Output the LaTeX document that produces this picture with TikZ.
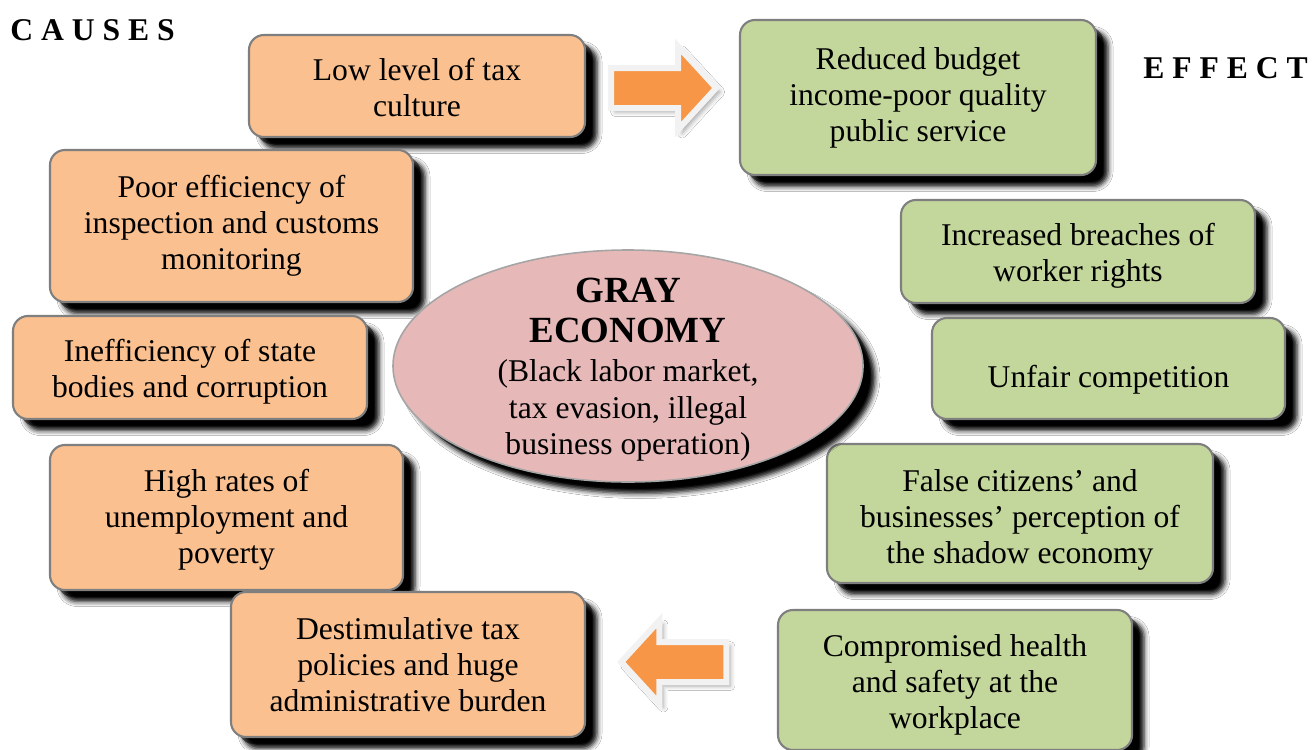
\documentclass[tikz,border=0pt]{standalone}
\usepackage{fontspec}
\setmainfont{Liberation Serif}
\usetikzlibrary{shapes.geometric,shapes.arrows,shadows,shadows.blur}
\definecolor{causefill}{HTML}{FAC090}
\definecolor{effectfill}{HTML}{C3D69B}
\definecolor{corefill}{HTML}{E6B9B8}
\definecolor{boxline}{HTML}{7F7F7F}
\definecolor{arroworange}{HTML}{F79646}
\definecolor{arrowedge}{HTML}{F2F2F2}
\newcommand\coretitle[1]{{\fontsize{21}{24}\selectfont\bfseries #1}}
\tikzset{
  bodytext/.style={font=\fontsize{18}{20.5}\selectfont, align=center, text=black, inner sep=0pt},
  myshadow/.style={drop shadow={shadow xshift=0.15cm, shadow yshift=-0.14cm, fill=black!50, opacity=1},
                   blur shadow={shadow xshift=0.24cm, shadow yshift=-0.23cm, shadow blur radius=0.1cm, shadow opacity=100}},
  causebox/.style={bodytext, rectangle, rounded corners=0.3cm, draw=boxline, line width=1.2pt, fill=causefill, myshadow},
  effectbox/.style={bodytext, rectangle, rounded corners=0.3cm, draw=boxline, line width=1.2pt, fill=effectfill, myshadow},
  corebox/.style={ellipse, draw=boxline!70, line width=0.9pt, fill=corefill, myshadow, inner sep=0pt},
  bigarrow/.style={single arrow, draw=arrowedge, line width=3.4pt, fill=arroworange, inner xsep=0pt, inner ysep=0.34cm, single arrow head extend=0.43cm, single arrow tip angle=95, blur shadow={shadow xshift=0.08cm, shadow yshift=-0.08cm, shadow blur radius=0.09cm, shadow opacity=35}},
  heading/.style={font=\fontsize{18}{20}\selectfont\bfseries, inner sep=0pt, anchor=west}
}
\begin{document}
\begin{tikzpicture}
\useasboundingbox (0,0) rectangle (26.24,-14.98);
\fill[white] (0,0) rectangle (26.24,-14.98);

\node[heading] (causes) at (0.2,-0.6) {C A U S E S};
\node[heading] (effect) at (22.86,-1.36) {E F F E C T};

% causes
\node[causebox, minimum width=6.72cm, minimum height=2.04cm] (c1) at (8.34,-1.72) {};
\node[bodytext] (c1t) at ([yshift=-0.04cm]c1.center) {Low level of tax\\culture};
\node[causebox, minimum width=7.26cm, minimum height=3.04cm] (c2) at (4.63,-4.52) {Poor efficiency of\\inspection and customs\\monitoring};
\node[causebox, minimum width=7.08cm, minimum height=2.06cm] (c3) at (3.80,-7.35) {};
\node[bodytext] (c3t) at ([yshift=-0.08cm]c3.center) {Inefficiency of state\\bodies and corruption};
\node[causebox, minimum width=7.06cm, minimum height=2.90cm] (c4) at (4.53,-10.35) {};
\node[bodytext] (c4t) at ([yshift=-0.05cm]c4.center) {High rates of\\unemployment and\\poverty};
\node[causebox, minimum width=7.08cm, minimum height=2.90cm] (c5) at (8.16,-13.29) {Destimulative tax\\policies and huge\\administrative burden};

% effects
\node[effectbox, minimum width=7.12cm, minimum height=3.10cm] (e1) at (18.36,-1.95) {Reduced budget\\income-poor quality\\public service};
\node[effectbox, minimum width=7.08cm, minimum height=2.06cm] (e2) at (21.56,-5.03) {};
\node[bodytext] (e2t) at ([yshift=-0.08cm]e2.center) {Increased breaches of\\worker rights};
\node[effectbox, minimum width=7.06cm, minimum height=2.02cm] (e3) at (22.17,-7.37) {};
\node[bodytext] (e3t) at ([yshift=-0.22cm]e3.center) {Unfair competition};
\node[effectbox, minimum width=7.72cm, minimum height=2.78cm] (e4) at (20.40,-10.27) {};
\node[bodytext] (e4t) at ([yshift=-0.12cm]e4.center) {False citizens’ and\\businesses’ perception of\\the shadow economy};
\node[effectbox, minimum width=7.08cm, minimum height=2.80cm] (e5) at (19.10,-13.60) {};
\node[bodytext] (e5t) at ([yshift=-0.10cm]e5.center) {Compromised health\\and safety at the\\workplace};

% core
\node[corebox, minimum width=9.4cm, minimum height=4.64cm] (core) at (12.56,-7.32) {};
\node[bodytext, font=\fontsize{18}{21}\selectfont] (coretext) at ([yshift=-0.08cm]core.center)
  {\coretitle{GRAY}\\[1.6pt]\coretitle{ECONOMY}\\[1pt](Black labor market,\\tax evasion, illegal\\business operation)};

% arrows
\node[bigarrow, minimum height=2.1cm] (arrR) at (13.09,-1.76) {};
\node[bigarrow, minimum height=2.1cm, shape border rotate=180] (arrL) at (13.66,-13.24) {};
\end{tikzpicture}
\end{document}
